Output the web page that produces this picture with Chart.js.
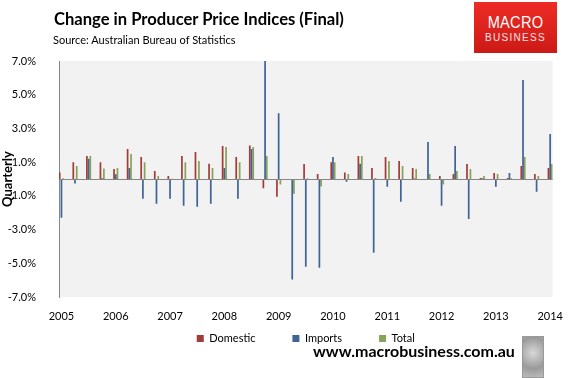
<!DOCTYPE html>
<html>
<head>
<meta charset="utf-8">
<script src="https://cdn.jsdelivr.net/npm/chart.js@4.4.0/dist/chart.umd.min.js"></script>
<style>
  html, body { margin: 0; padding: 0; background: #fff; }
  #wrap { position: relative; width: 568px; height: 378px; overflow: hidden; font-family: Lato, "Open Sans", sans-serif; }
  #chart { position: absolute; left: 0; top: 0; }
  #title { position: absolute; left: 54px; top: 9px; font-size: 16.6px; font-weight: bold; color: #000; white-space: nowrap; }
  #source { position: absolute; left: 53px; top: 33px; font-size: 11px; color: #000; white-space: nowrap; }
  #logo { position: absolute; left: 474px; top: 2px; width: 83px; height: 51px;
          background: linear-gradient(#ee2b25, #cc1a16); text-align: center;
          font-family: "Liberation Sans", sans-serif; }
  #logo .m { position: absolute; left: 0; width: 83px; top: 11px; font-size: 17px; color: #fff;
             transform: scaleX(0.86); letter-spacing: 0.3px; }
  #logo .b { position: absolute; left: 0; width: 83px; top: 30px; font-size: 10px; color: #fde3e3;
             letter-spacing: 1.3px; }
  #site { position: absolute; left: 313px; top: 341px; font-size: 16px; font-weight: bold; color: #000; white-space: nowrap; }
  #wolf { position: absolute; left: 522px; top: 336px; width: 20px; height: 40px; border: 1px solid #999;
          background: radial-gradient(circle at 50% 40%, #d8d8d8, #9a9a9a 60%, #bdbdbd); }
</style>
</head>
<body>
<div id="wrap">
  <canvas id="chart" width="568" height="378"></canvas>
  <div id="title">Change in Producer Price Indices (Final)</div>
  <div id="source">Source: Australian Bureau of Statistics</div>
  <div id="logo"><div class="m">MACRO</div><div class="b">BUSINESS</div></div>
  <div id="site">www.macrobusiness.com.au</div>
  <div id="wolf"></div>
</div>
<script>
// quarters Mar-2005 .. Mar-2014
const quarters = [
  'Mar-05','Jun-05','Sep-05','Dec-05','Mar-06','Jun-06','Sep-06','Dec-06',
  'Mar-07','Jun-07','Sep-07','Dec-07','Mar-08','Jun-08','Sep-08','Dec-08',
  'Mar-09','Jun-09','Sep-09','Dec-09','Mar-10','Jun-10','Sep-10','Dec-10',
  'Mar-11','Jun-11','Sep-11','Dec-11','Mar-12','Jun-12','Sep-12','Dec-12',
  'Mar-13','Jun-13','Sep-13','Dec-13','Mar-14'
];
const yearTicks = [
  '2005','','','','2006','','','','2007','','','','2008','','','',
  '2009','','','','2010','','','','2011','','','','2012','','','',
  '2013','','','','2014'
];
const yearTickIdx = [0, 4, 8, 12, 16, 20, 24, 28, 32, 36];

const domestic = [
  0.38, 1.0, 1.37, 1.0, 0.6, 1.78, 1.3, 0.48,
  0.18, 1.37, 1.6, 0.9, 1.96, 1.3, 1.98, -0.55,
  -1.05, 0.0, 0.89, 0.3, 0.99, 0.38, 1.37, 0.65,
  1.3, 1.07, 0.65, 0.0, 0.18, 0.3, 0.89, 0.06,
  0.36, 0.06, 0.77, 0.3, 0.65
];
const imports = [
  -2.3, -0.26, 1.2, 0.05, 0.28, 0.65, -1.17, -1.47,
  -1.17, -1.58, -1.64, -1.47, 0.65, -1.17, 1.78, 7.4,
  3.9, -5.96, -5.2, -5.27, 1.3, -0.16, 0.9, -4.38,
  -0.46, -1.35, 0.03, 2.2, -1.58, 1.96, -2.38, 0.05,
  -0.46, 0.36, 5.88, -0.75, 2.67
];
const total = [
  0.05, 0.77, 1.37, 0.63, 0.65, 1.48, 1.0, 0.18,
  0.02, 1.0, 1.07, 0.65, 1.9, 1.0, 1.9, 1.37,
  -0.32, -0.87, 0.04, -0.44, 0.99, 0.3, 1.37, 0.06,
  1.07, 0.77, 0.6, 0.3, -0.32, 0.48, 0.6, 0.18,
  0.3, 0.05, 1.31, 0.18, 0.89
];

// bars sit on a linear x scale (quarter index) so the axis can run a touch past the first/last quarter
const toPoints = arr => arr.map((v, i) => ({ x: i, y: v }));

const plotBg = {
  id: 'plotBg',
  beforeDraw(chart) {
    const a = chart.chartArea, ctx = chart.ctx;
    ctx.save();
    ctx.fillStyle = '#f2f2f2';
    ctx.fillRect(a.left, a.top, a.right - a.left, a.bottom - a.top);
    ctx.restore();
  }
};

const zeroLine = {
  id: 'zeroLine',
  afterDatasetsDraw(chart) {
    const a = chart.chartArea, ctx = chart.ctx;
    const y = Math.round(chart.scales.y.getPixelForValue(0)) + 0.5;
    ctx.save();
    ctx.strokeStyle = '#868686';
    ctx.lineWidth = 1;
    ctx.beginPath();
    ctx.moveTo(a.left, y);
    ctx.lineTo(a.right, y);
    ctx.stroke();
    ctx.restore();
  }
};

// legend labels.padding doubles as vertical padding, so lift the legend up under the year labels
const liftLegend = {
  id: 'liftLegend',
  afterLayout(chart) {
    chart.legend.top -= 31;
    chart.legend.bottom -= 31;
  }
};

const barOpts = { barPercentage: 1, categoryPercentage: 0.38, borderWidth: 0, clip: 0 };

new Chart(document.getElementById('chart').getContext('2d'), {
  type: 'bar',
  data: {
    datasets: [
      Object.assign({ label: 'Domestic', data: toPoints(domestic), backgroundColor: '#a33c39' }, barOpts),
      Object.assign({ label: 'Imports', data: toPoints(imports), backgroundColor: '#3f6496' }, barOpts),
      Object.assign({ label: 'Total', data: toPoints(total), backgroundColor: '#88a357' }, barOpts)
    ]
  },
  options: {
    responsive: false,
    animation: false,
    layout: { padding: { left: 0, right: 13, top: 61, bottom: 1 } },
    plugins: {
      tooltip: { enabled: false },
      legend: {
        position: 'bottom',
        fullSize: false,
        maxHeight: 50,
        labels: {
          boxWidth: 7, boxHeight: 7, padding: 37,
          color: '#000', font: { family: 'Lato', size: 11 }
        }
      }
    },
    scales: {
      x: {
        type: 'linear',
        min: -0.18, max: 36.18,
        offset: false,
        grid: { display: false },
        border: { display: false },
        afterBuildTicks: s => { s.ticks = yearTickIdx.map(v => ({ value: v })); },
        ticks: {
          autoSkip: false, maxRotation: 0, padding: 5,
          color: '#000', font: { family: 'Lato', size: 11 },
          callback: v => yearTicks[v]
        },
        afterFit: s => { s.height = 30; }
      },
      y: {
        min: -7, max: 7,
        grid: { display: false },
        border: { display: true, color: '#868686' },
        ticks: {
          stepSize: 2, padding: 15,
          color: '#000', font: { family: 'Lato', size: 11 },
          callback: v => v.toFixed(1) + '%'
        },
        title: { display: true, text: 'Quarterly', color: '#000', padding: 0,
                 font: { family: 'Lato', size: 13, weight: 'bold' } },
        afterFit: s => { s.width = 59; }
      }
    }
  },
  plugins: [plotBg, zeroLine, liftLegend]
});
</script>
</body>
</html>
